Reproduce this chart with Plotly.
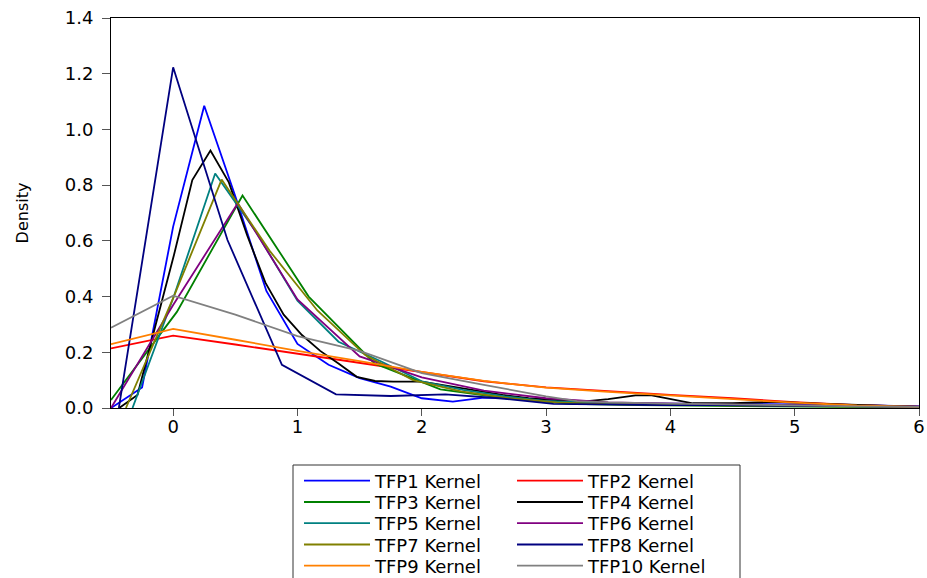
import plotly.graph_objects as go

# ---------------- data ----------------
series_names = ["TFP1 Kernel", "TFP2 Kernel", "TFP3 Kernel", "TFP4 Kernel", "TFP5 Kernel",
                "TFP6 Kernel", "TFP7 Kernel", "TFP8 Kernel", "TFP9 Kernel", "TFP10 Kernel"]

tfp1_x = [-0.5, -0.25, 0.0, 0.25, 0.5, 0.75, 1.0, 1.25, 1.5, 1.75, 2.0, 2.25, 2.5, 2.75, 3.0, 3.5, 4.0, 4.5, 5.0, 5.5, 6.0]
tfp1_y = [0.0, 0.074, 0.651, 1.085, 0.76, 0.42, 0.23, 0.155, 0.107, 0.077, 0.035, 0.023, 0.037, 0.035, 0.025, 0.018, 0.016, 0.015, 0.013, 0.01, 0.006]

tfp2_x = [-0.5, 0.0, 0.5, 1.0, 1.5, 2.0, 2.5, 3.0, 3.5, 4.0, 4.5, 5.0, 5.5, 6.0]
tfp2_y = [0.214, 0.26, 0.228, 0.195, 0.163, 0.128, 0.096, 0.074, 0.06, 0.047, 0.035, 0.021, 0.01, 0.005]

tfp3_x = [-0.5, 0.03, 0.558, 1.09, 1.62, 2.15, 2.68, 3.21, 3.74, 4.27, 4.8, 5.33, 5.86, 6.0]
tfp3_y = [0.029, 0.345, 0.763, 0.40, 0.16, 0.067, 0.035, 0.015, 0.01, 0.007, 0.006, 0.004, 0.003, 0.003]

tfp4_x = [-0.434, -0.287, -0.14, 0.007, 0.154, 0.30, 0.448, 0.595, 0.742, 0.889, 1.036, 1.183, 1.33, 1.477,
          1.624, 1.77, 2.0, 2.2, 2.46, 2.65, 2.86, 3.05, 3.29, 3.5, 3.72, 3.85, 3.96, 4.18, 4.5, 4.85, 5.2, 5.6, 6.0]
tfp4_y = [0.0, 0.047, 0.30, 0.55, 0.818, 0.924, 0.81, 0.62, 0.45, 0.335, 0.262, 0.205, 0.16, 0.112,
          0.097, 0.095, 0.095, 0.08, 0.059, 0.047, 0.035, 0.03, 0.023, 0.032, 0.045, 0.045, 0.035, 0.017, 0.017, 0.022, 0.016, 0.01, 0.004]

tfp5_x = [-0.327, 0.005, 0.338, 0.67, 1.0, 1.33, 1.67, 2.0, 2.33, 2.67, 3.0, 3.5, 4.0, 4.5, 5.0, 5.5, 6.0]
tfp5_y = [0.0, 0.40, 0.842, 0.63, 0.385, 0.238, 0.168, 0.096, 0.065, 0.042, 0.025, 0.018, 0.014, 0.012, 0.009, 0.007, 0.004]

tfp6_x = [-0.5, 0.0, 0.52, 1.0, 1.5, 2.0, 2.5, 3.0, 3.5, 4.0, 4.5, 5.0, 5.5, 6.0]
tfp6_y = [0.0, 0.37, 0.735, 0.39, 0.185, 0.11, 0.062, 0.035, 0.02, 0.015, 0.012, 0.01, 0.007, 0.004]

tfp7_x = [-0.38, 0.005, 0.39, 0.775, 1.16, 1.545, 1.93, 2.315, 2.7, 3.085, 3.47, 3.855, 4.24, 4.625, 5.01, 5.395, 5.78, 6.0]
tfp7_y = [0.0, 0.40, 0.82, 0.565, 0.35, 0.19, 0.10, 0.06, 0.035, 0.02, 0.014, 0.012, 0.01, 0.009, 0.008, 0.006, 0.005, 0.004]

tfp8_x = [-0.437, 0.0, 0.437, 0.875, 1.31, 1.75, 2.19, 2.62, 3.06, 3.5, 3.94, 4.37, 4.81, 5.25, 5.69, 6.0]
tfp8_y = [0.0, 1.223, 0.603, 0.155, 0.049, 0.043, 0.049, 0.035, 0.015, 0.012, 0.01, 0.01, 0.009, 0.008, 0.006, 0.005]

tfp9_x = [-0.5, 0.0, 0.5, 1.0, 1.5, 2.0, 2.5, 3.0, 3.5, 4.0, 4.5, 5.0, 5.5, 6.0]
tfp9_y = [0.229, 0.284, 0.245, 0.205, 0.168, 0.13, 0.097, 0.073, 0.058, 0.045, 0.033, 0.019, 0.009, 0.004]

tfp10_x = [-0.5, 0.0, 0.5, 1.0, 1.5, 2.0, 2.5, 3.0, 3.25, 3.5, 4.0, 4.5, 5.0, 5.5, 6.0]
tfp10_y = [0.288, 0.403, 0.335, 0.258, 0.205, 0.125, 0.083, 0.042, 0.025, 0.02, 0.016, 0.012, 0.009, 0.006, 0.004]

x_tick_values = [0, 1, 2, 3, 4, 5, 6]
y_tick_values = [0.0, 0.2, 0.4, 0.6, 0.8, 1.0, 1.2, 1.4]

# ---------------- styling ----------------
series_x = [tfp1_x, tfp2_x, tfp3_x, tfp4_x, tfp5_x, tfp6_x, tfp7_x, tfp8_x, tfp9_x, tfp10_x]
series_y = [tfp1_y, tfp2_y, tfp3_y, tfp4_y, tfp5_y, tfp6_y, tfp7_y, tfp8_y, tfp9_y, tfp10_y]
colors = ["#0000FF", "#FF0000", "#008000", "#000000", "#008080",
          "#800080", "#808000", "#000080", "#FF8000", "#808080"]

W, H = 927, 578
ML, MR, MT, MB = 111, 8, 18, 170
PW, PH = W - ML - MR, H - MT - MB
FONT = "DejaVu Sans"


def px_to_paper_x(px):
    return (px - ML) / PW


def py_to_paper_y(py):
    return (H - MB - py) / PH


legend_col_px = [299, 512]
legend_row_py = [481, 502.3, 523.5, 544.8, 566]

fig = go.Figure()
layout_legends = {}
for i in range(10):
    lid = "legend" if i == 0 else f"legend{i + 1}"
    fig.add_trace(go.Scatter(
        x=series_x[i], y=series_y[i], mode="lines", name=series_names[i],
        line=dict(color=colors[i], width=1.8), legend=lid, hoverinfo="skip",
    ))
    col, row = i % 2, i // 2
    layout_legends[lid] = dict(
        x=px_to_paper_x(legend_col_px[col]), y=py_to_paper_y(legend_row_py[row]),
        xanchor="left", yanchor="middle", bgcolor="rgba(0,0,0,0)", borderwidth=0,
        font=dict(family=FONT, size=18, color="#000000"), itemwidth=66,
    )

fig.update_layout(
    width=W, height=H,
    margin=dict(l=ML, r=MR, t=MT, b=MB, autoexpand=False),
    paper_bgcolor="white", plot_bgcolor="white",
    showlegend=True,
    font=dict(family=FONT, color="#000000"),
    xaxis=dict(
        range=[-0.5, 6], tickvals=x_tick_values, ticks="outside", ticklen=7, tickwidth=1,
        tickcolor="#555555", showline=True, linecolor="#000000", linewidth=1, mirror=True,
        showgrid=False, zeroline=False, tickfont=dict(family=FONT, size=18, color="#000000"),
        ticklabelstandoff=-5,
    ),
    yaxis=dict(
        range=[0, 1.4], tickvals=y_tick_values, tickformat=".1f", ticks="outside", ticklen=8,
        tickwidth=1, tickcolor="#555555", showline=True, linecolor="#000000", linewidth=1,
        mirror=True, showgrid=False, zeroline=False,
        tickfont=dict(family=FONT, size=18, color="#000000"), ticklabelstandoff=5,
        title=dict(text="Density", font=dict(family=FONT, size=16, color="#000000"), standoff=32),
    ),
    shapes=[dict(
        type="rect", xref="paper", yref="paper",
        x0=px_to_paper_x(293), x1=px_to_paper_x(740),
        y0=py_to_paper_y(465), y1=py_to_paper_y(590),
        line=dict(color="#333333", width=1), fillcolor="rgba(0,0,0,0)",
    )],
    **layout_legends,
)

fig.write_html("out.html", config={"displayModeBar": False},
               post_script="document.body.style.margin='0';")
